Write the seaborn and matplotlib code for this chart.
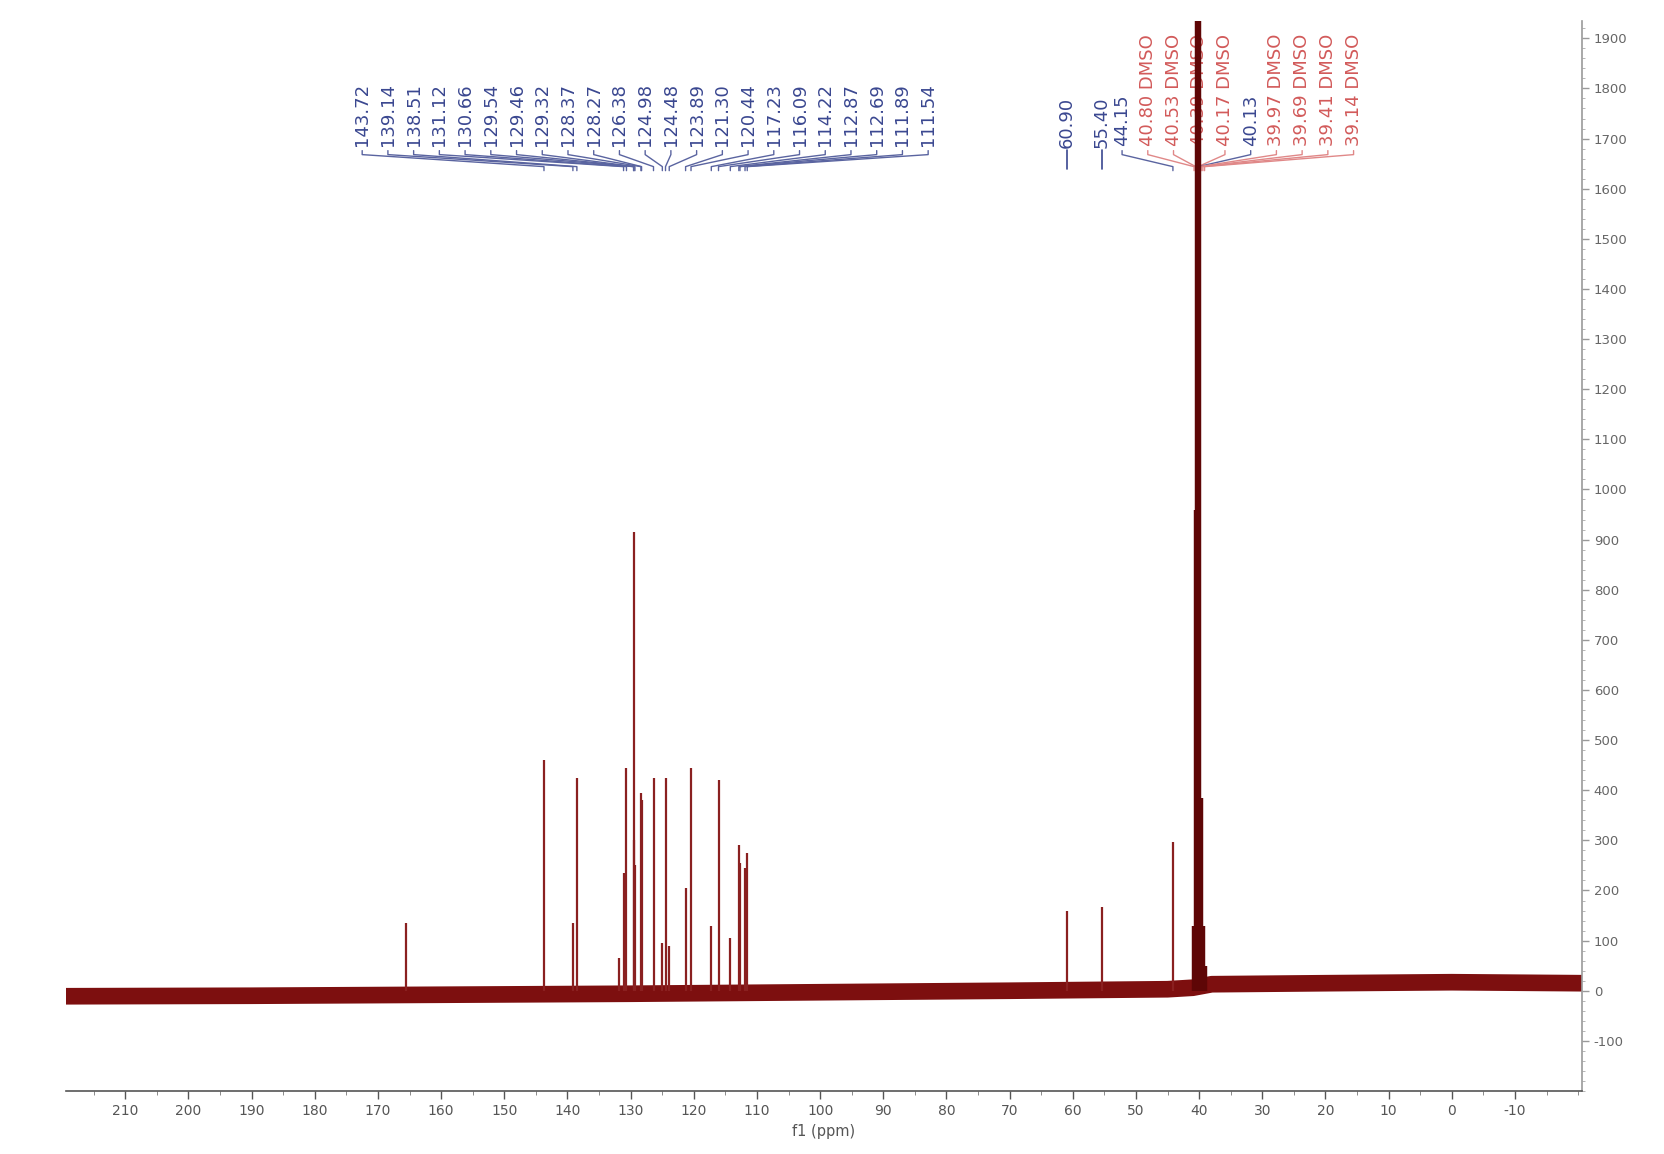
import numpy as np
import pandas as pd
import matplotlib
matplotlib.use("Agg")
import matplotlib.pyplot as plt
from matplotlib.ticker import MultipleLocator
import seaborn as sns

# peaks (ppm, intensity)
peak_ppm = [165.60, 143.72, 139.14, 138.51, 131.90, 131.12, 130.66, 129.54, 129.46, 129.32,
            128.37, 128.27, 126.38, 124.98, 124.48, 123.89, 121.30, 120.44, 117.23,
            116.09, 114.22, 112.87, 112.69, 111.89, 111.54, 60.90, 55.40, 44.15]
peak_int = [135, 460, 135, 425, 65, 235, 445, 300, 915, 250,
            395, 380, 425, 95, 425, 90, 205, 445, 130,
            420, 105, 290, 255, 245, 275, 160, 168, 296]

# solvent (DMSO-d6) multiplet, centre goes off scale
dmso_ppm = [40.80, 40.53, 40.39, 40.17, 40.13, 39.97, 39.69, 39.41, 39.14]
dmso_int = [130, 960, 2600, 3000, 2900, 2600, 385, 130, 50]

# baseline level along the spectrum
base_ppm = [219.4, 190, 160, 130, 100, 70, 45, 41, 38, 20, 0, -20.6]
base_mid = [-11, -10, -8, -6, -3, 0, 3, 6, 13, 15, 17, 15]

# multiplet labels
aro_labels = ['143.72', '139.14', '138.51', '131.12', '130.66', '129.54', '129.46', '129.32',
              '128.37', '128.27', '126.38', '124.98', '124.48', '123.89', '121.30', '120.44',
              '117.23', '116.09', '114.22', '112.87', '112.69', '111.89', '111.54']
single_labels = ['60.90', '55.40']
solv_labels = ['44.15', '40.80 DMSO', '40.53 DMSO', '40.39 DMSO', '40.17 DMSO', '40.13',
               '39.97 DMSO', '39.69 DMSO', '39.41 DMSO', '39.14 DMSO']

sns.set_style("white")
plt.rcParams['axes.unicode_minus'] = False
plt.rcParams['font.family'] = ['DejaVu Sans']

fig = plt.figure(figsize=(16.65, 11.54), dpi=100)
ax = fig.add_axes([0.0396, 0.0546, 0.9105, 0.9274])

red = '#7d0f0f'
blue = '#3a4790'
pink = '#d25a5a'

# baseline band
base = pd.DataFrame({'ppm': base_ppm, 'int': base_mid})
sns.lineplot(data=base, x='ppm', y='int', ax=ax, color=red, lw=12, sort=False,
             solid_capstyle='butt', solid_joinstyle='round', zorder=2)

# peaks
ax.vlines(peak_ppm, 0, peak_int, color='#8a2020', lw=1.6, zorder=3)
ax.vlines(dmso_ppm, 0, dmso_int, color='#5e0606', lw=3.2, zorder=6)

# label annotations
y_txt, y_a, y_b, y_c = 1685, 1676, 1668, 1644

def fan(labels, peaks, xs, colors, lcolors):
    for lab, p, x, c, lc in zip(labels, peaks, xs, colors, lcolors):
        ax.plot([x, x, p, p], [y_a, y_b, y_c, y_c - 8], color=lc, lw=1.0, zorder=4)
        ax.text(x, y_txt, lab, rotation=90, ha='center', va='bottom', fontsize=13,
                color=c, zorder=5)

aro_pos = np.linspace(172.5, 82.9, len(aro_labels))
aro_val = [float(s) for s in aro_labels]
fan(aro_labels, aro_val, aro_pos, [blue] * len(aro_labels), ['#5a64a0'] * len(aro_labels))

solv_pos = np.linspace(52.2, 15.55, len(solv_labels))
solv_val = [float(s.split()[0]) for s in solv_labels]
solv_col = [pink if 'DMSO' in s else blue for s in solv_labels]
solv_lcol = ['#e08888' if 'DMSO' in s else '#5a64a0' for s in solv_labels]
fan(solv_labels, solv_val, solv_pos, solv_col, solv_lcol)

for lab in single_labels:
    v = float(lab)
    ax.plot([v, v], [y_c - 4, y_txt - 8], color=blue, lw=1.2, zorder=4)
    ax.text(v, y_txt - 4, lab, rotation=90, ha='center', va='bottom', fontsize=13,
            color=blue, zorder=5)

# axes styling
ax.set_xlim(219.4, -20.6)
ax.set_ylim(-200, 1935)
ax.xaxis.set_minor_locator(MultipleLocator(5))
ax.yaxis.set_minor_locator(MultipleLocator(20))
ax.set_xticks(np.arange(-10, 211, 10))
ax.set_yticks(np.arange(-100, 1901, 100))
ax.yaxis.tick_right()
ax.tick_params(axis='x', which='major', direction='out', length=6, width=1,
               labelsize=10, labelcolor='#555555', color='#555555', bottom=True)
ax.tick_params(axis='x', which='minor', direction='out', length=3, color='#777777', bottom=True)
ax.tick_params(axis='y', which='major', direction='out', length=5, width=1,
               labelsize=9.5, labelcolor='#666666', color='#999999', right=True, left=False)
ax.tick_params(axis='y', which='minor', direction='out', length=2.5, color='#aaaaaa',
               right=True, left=False)
ax.set_xlabel('f1 (ppm)', fontsize=10.5, color='#555555', labelpad=4)
ax.set_ylabel('')

for s in ['top', 'left']:
    ax.spines[s].set_visible(False)
ax.spines['right'].set_color('#999999')
ax.spines['bottom'].set_color('#555555')
ax.spines['right'].set_linewidth(1.2)
ax.spines['bottom'].set_linewidth(1.2)

fig.savefig('out.png', dpi=100, facecolor='white')
